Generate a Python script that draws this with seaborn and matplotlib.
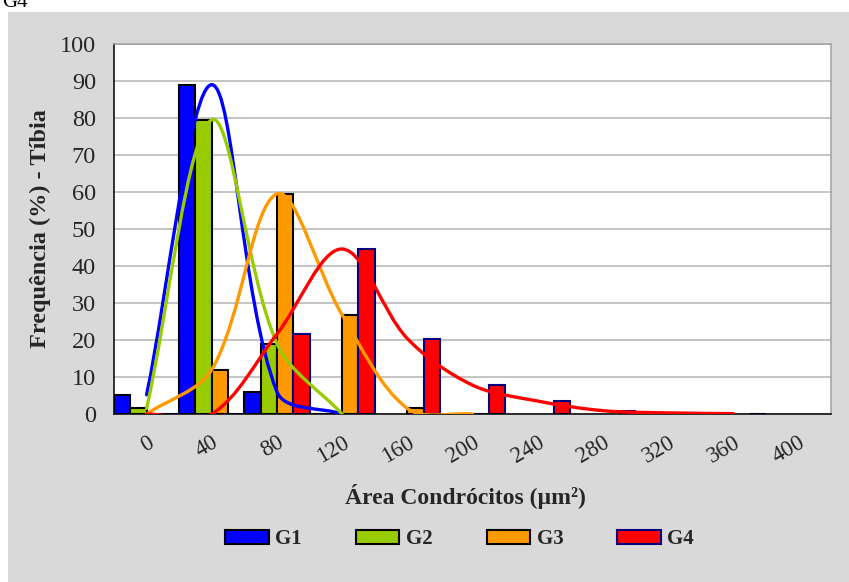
import numpy as np
import pandas as pd
import matplotlib
matplotlib.use("Agg")
import matplotlib.pyplot as plt
from matplotlib.path import Path
from matplotlib.patches import PathPatch, Rectangle, Patch
import seaborn as sns

# ---- data ----
categories = ["0", "40", "80", "120", "160", "200", "240", "280", "320", "360", "400"]
groups = ["G1", "G2", "G3", "G4"]
g1 = [5.2, 89.0, 6.0, 0.0]
g2 = [1.5, 79.5, 19.0, 0.0]
g3 = [0.0, 12.0, 59.5, 26.8, 1.5, 0.0]
g4 = [0.0, 0.0, 21.6, 44.6, 20.4, 7.8, 3.5, 0.9, 0.3, 0.1]
y_ticks = [0, 10, 20, 30, 40, 50, 60, 70, 80, 90, 100]
series = [g1, g2, g3, g4]

colors = ["#0000FF", "#99CC00", "#FF9900", "#FF0000"]
edges = ["black", "black", "black", "#000080"]

sns.set_style("white")
plt.rcParams["font.family"] = ["Liberation Serif", "DejaVu Serif"]

W, H = 849, 582
fig = plt.figure(figsize=(W / 100, H / 100), dpi=100, facecolor="white")
fig.patches.append(Rectangle((8 / W, 0), 1 - 8 / W, 1 - 12 / H, transform=fig.transFigure,
                             facecolor="#d9d9d9", edgecolor="none", zorder=-10))
fig.text(2 / W, 1 - 7 / H, "G4", fontsize=15, va="baseline", ha="left", color="black")

ax = fig.add_axes([114 / W, (H - 414) / H, 717 / W, 370 / H])
ax.set_facecolor("white")

rows = []
for g, vals in zip(groups, series):
    for c, v in zip(categories, vals):
        rows.append((c, g, v))
df = pd.DataFrame(rows, columns=["cat", "group", "value"])

sns.barplot(data=df, x="cat", y="value", hue="group", order=categories, hue_order=groups,
            palette=colors, width=1.0, gap=0, errorbar=None, edgecolor="black",
            linewidth=1.5, saturation=1, legend=False, ax=ax, zorder=2)
for cont, ec in zip(ax.containers, edges):
    for bar in cont:
        bar.set_edgecolor(ec)

ax.set_xlim(-0.5, len(categories) - 0.5)
ax.set_ylim(0, 100)


def smooth_path(xs, ys):
    pts = ax.transData.transform(np.column_stack([xs, ys]))
    n = len(pts)
    verts = [pts[0]]
    codes = [Path.MOVETO]
    for i in range(n - 1):
        p0 = pts[i - 1] if i > 0 else pts[i]
        p1 = pts[i]
        p2 = pts[i + 1]
        p3 = pts[i + 2] if i + 2 < n else pts[i + 1]
        d01 = np.hypot(*(p1 - p0))
        d12 = np.hypot(*(p2 - p1))
        d23 = np.hypot(*(p3 - p2))
        f1 = d12 / (d01 + d12) / 3 if d01 + d12 > 0 else 0
        f2 = d12 / (d12 + d23) / 3 if d12 + d23 > 0 else 0
        c1 = p1 + (p2 - p0) * f1
        c2 = p2 - (p3 - p1) * f2
        verts += [c1, c2, p2]
        codes += [Path.CURVE4] * 3
    verts = ax.transData.inverted().transform(np.array(verts))
    return Path(verts, codes)


for vals, col in zip(series, colors):
    xs = np.arange(len(vals))
    p = smooth_path(xs, vals)
    ax.add_patch(PathPatch(p, facecolor="none", edgecolor=col, lw=2.4, zorder=4,
                           capstyle="round", joinstyle="round"))

# axes styling
ax.set_yticks(y_ticks)
ax.set_yticklabels([str(v) for v in y_ticks])
ax.tick_params(axis="y", direction="out", length=5, width=1, color="black", labelsize=17.5, pad=8)
ax.yaxis.grid(True, color="#b4b4b4", lw=1.1)
ax.xaxis.grid(False)
ax.set_axisbelow(True)

ax.set_xticks(np.arange(-0.5, len(categories), 1.0))
ax.set_xticklabels([])
ax.set_xticks(np.arange(len(categories)), minor=True)
ax.set_xticklabels(categories, minor=True)
ax.tick_params(axis="x", which="major", direction="out", length=5, width=1, color="black")
ax.tick_params(axis="x", which="minor", length=0, labelsize=16.5, pad=13)
for lab in ax.get_xticklabels(minor=True):
    lab.set_rotation(30)
    lab.set_ha("right")
    lab.set_va("top")
    lab.set_rotation_mode("anchor")

for s in ["left", "bottom"]:
    ax.spines[s].set_color("black")
    ax.spines[s].set_linewidth(1.1)
for s in ["top", "right"]:
    ax.spines[s].set_color("#a0a0a0")
    ax.spines[s].set_linewidth(1.1)
    ax.spines[s].set_visible(True)

ax.set_xlabel("Área Condrócitos (µm²)", fontsize=17, fontweight="bold")
ax.xaxis.set_label_coords((465 - 114) / 717, -(484 - 414) / 370)
ax.xaxis.label.set_va("top")
ax.set_ylabel("Frequência (%) - Tíbia", fontsize=17.5, fontweight="bold")
ax.yaxis.set_label_coords(-0.088, 0.5)

handles = [Patch(facecolor=c, edgecolor=e, lw=1.5) for c, e in zip(colors, edges)]
fig.legend(handles, groups, ncol=4, loc="center", bbox_to_anchor=(459.5 / W, 1 - 539.5 / H),
           frameon=False, prop={"weight": "bold", "size": 15}, handlelength=2.1,
           handleheight=0.63, handletextpad=0.3, columnspacing=2.6)

fig.savefig("out.png", dpi=100, facecolor="white")
